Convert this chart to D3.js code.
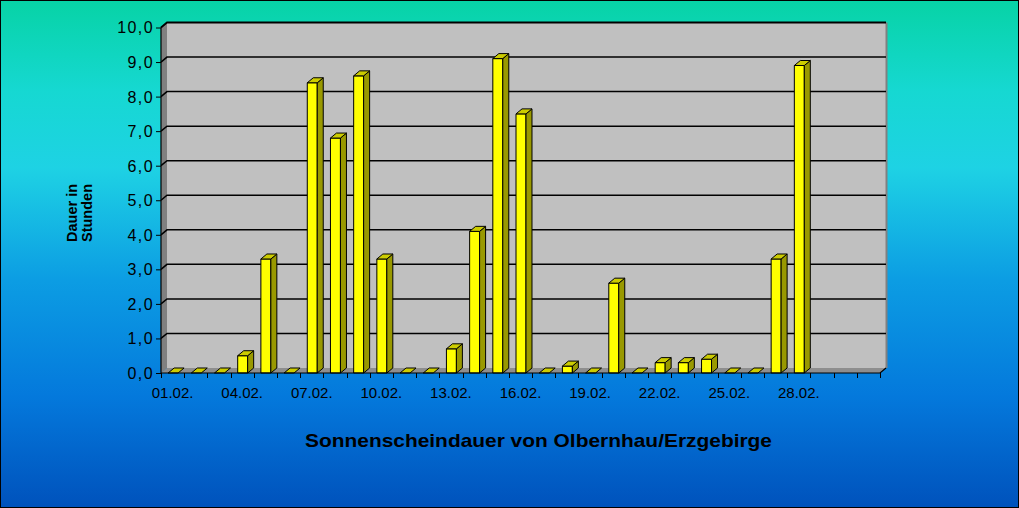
<!DOCTYPE html>
<html><head><meta charset="utf-8">
<script src="https://cdn.jsdelivr.net/npm/d3@7"></script>
<style>html,body{margin:0;padding:0;overflow:hidden;background:#fff}svg{display:block}</style>
</head><body>
<script>
// ---- data ----
const categories = ["01.02.","02.02.","03.02.","04.02.","05.02.","06.02.","07.02.","08.02.","09.02.","10.02.",
  "11.02.","12.02.","13.02.","14.02.","15.02.","16.02.","17.02.","18.02.","19.02.","20.02.",
  "21.02.","22.02.","23.02.","24.02.","25.02.","26.02.","27.02.","28.02.","29.02.","30.02.","31.02."];
const shownLabels = ["01.02.","04.02.","07.02.","10.02.","13.02.","16.02.","19.02.","22.02.","25.02.","28.02."];
const values = [0,0,0,0.5,3.3,0,8.4,6.8,8.6,3.3,
  0,0,0.7,4.1,9.1,7.5,0,0.2,0,2.6,
  0,0.3,0.3,0.4,0,0,3.3,8.9];
const yTicks = [0,1,2,3,4,5,6,7,8,9,10];
const title = "Sonnenscheindauer von Olbernhau/Erzgebirge";
const yTitle = ["Dauer in","Stunden"];

// ---- layout ----
const W = 1019, H = 508;
const DX = 6, DY = 5;
const font = "'Liberation Sans', Arial, sans-serif";

const svg = d3.select("body").append("svg").attr("width", W).attr("height", H);
const defs = svg.append("defs");
const grad = defs.append("linearGradient").attr("id","bg").attr("x1",0).attr("y1",0).attr("x2",0).attr("y2",1);
[[0,"#07d3a6"],[0.18,"#16d8d2"],[0.33,"#1ed2e4"],[0.55,"#0c9de3"],[0.78,"#0479dc"],[1,"#0052bc"]]
  .forEach(([o,c]) => grad.append("stop").attr("offset",o).attr("stop-color",c));
svg.append("rect").attr("x",0.5).attr("y",0.5).attr("width",W-1).attr("height",H-1)
  .attr("fill","url(#bg)").attr("stroke","#000").attr("stroke-width",1);

const x = d3.scaleBand().domain(categories).range([161, 880]).padding(0);
const y = d3.scaleLinear().domain([0,10]).range([373, 27.5]);
const x0 = 161, x1 = 880, y0 = y(0), yTop = y(10);

const g = svg.append("g");
// back wall
g.append("rect").attr("x", x0+DX).attr("y", yTop-DY).attr("width", x1-x0).attr("height", y0-yTop)
  .attr("fill","#c0c0c0");
// right edge of wall
g.append("line").attr("x1", x1+DX+0.5).attr("x2", x1+DX+0.5).attr("y1", yTop-DY).attr("y2", y0-DY)
  .attr("stroke","#808080").attr("stroke-width",2);
// left wall
g.append("path").attr("d", `M${x0},${yTop} L${x0+DX},${yTop-DY} L${x0+DX},${y0-DY} L${x0},${y0} Z`)
  .attr("fill","#808080");
// floor
g.append("path").attr("d", `M${x0},${y0} L${x0+DX},${y0-DY} L${x1+DX},${y0-DY} L${x1},${y0} Z`)
  .attr("fill","#8e8e8e");

// gridlines
yTicks.forEach(v => {
  if (v === 0) return;
  const yy = y(v);
  g.append("path").attr("d", `M${x0},${yy} L${x0+DX},${yy-DY} L${x1+DX},${yy-DY}`)
    .attr("fill","none").attr("stroke","#000").attr("stroke-width", v===10?1.8:1.5);
});

// bars
const bw = x.bandwidth()*0.43;
values.forEach((v,i) => {
  const cx = x(categories[i]) + x.bandwidth()/2 + 0.5;
  const bx = cx - bw/2, top = y(v);
  const bg = g.append("g").attr("stroke","#000").attr("stroke-width",1).attr("stroke-linejoin","round");
  if (v > 0) {
    bg.append("rect").attr("x", bx).attr("y", top).attr("width", bw).attr("height", y0-top).attr("fill","#ffff00");
    bg.append("path").attr("d", `M${bx+bw},${top} L${bx+bw+DX},${top-DY} L${bx+bw+DX},${y0-DY} L${bx+bw},${y0} Z`)
      .attr("fill","#999900");
  }
  bg.append("path").attr("d", `M${bx},${top} L${bx+DX},${top-DY} L${bx+bw+DX},${top-DY} L${bx+bw},${top} Z`)
    .attr("fill","#cccc00");
});

// axes
const yAxis = d3.axisLeft(y).tickValues(yTicks).tickSize(5)
  .tickFormat(d => d3.format(".1f")(d).replace(".", ","));
const ya = svg.append("g").attr("transform", `translate(${x0},0)`).call(yAxis);
ya.select(".domain").attr("stroke","#000").attr("stroke-width",1.2).attr("d", `M-0,${yTop}V${y0}`);
ya.selectAll(".tick line").attr("stroke","#000");
ya.selectAll("text").attr("font-family", font).attr("font-size", 16).attr("fill","#000")
  .attr("letter-spacing", "1.4px").attr("x",-7).attr("dy","0.34em");

const xa = svg.append("g");
xa.append("path").attr("d", `M${x0},${y0} L${x1},${y0} L${x1+DX},${y0-DY}`).attr("fill","none").attr("stroke","#000").attr("stroke-width",1.2);
categories.concat([null]).forEach((c,i) => {
  const xx = Math.round(c ? x(c) : x1) + 0.5;
  xa.append("line").attr("x1",xx).attr("x2",xx).attr("y1",y0).attr("y2",y0+5).attr("stroke","#000");
});
xa.selectAll("text.xl").data(shownLabels).enter().append("text").attr("class","xl")
  .attr("x", d => x(d) + x.bandwidth()/2).attr("y", 398)
  .attr("text-anchor","middle").attr("font-family",font).attr("font-size",15).attr("fill","#000")
  .text(d => d);

// titles
svg.append("text").attr("x", 305).attr("y", 447).attr("text-anchor","start")
  .attr("textLength", 467).attr("lengthAdjust","spacingAndGlyphs")
  .attr("font-family",font).attr("font-size",18.5).attr("font-weight","bold").attr("fill","#000").text(title);
yTitle.forEach((t,i) => {
  svg.append("text").attr("transform", `translate(${77 + i*15},242) rotate(-90)`)
    .attr("text-anchor","start").attr("font-family",font).attr("font-size",14.5).attr("font-weight","bold")
    .attr("fill","#000").text(t);
});
</script>
</body></html>
